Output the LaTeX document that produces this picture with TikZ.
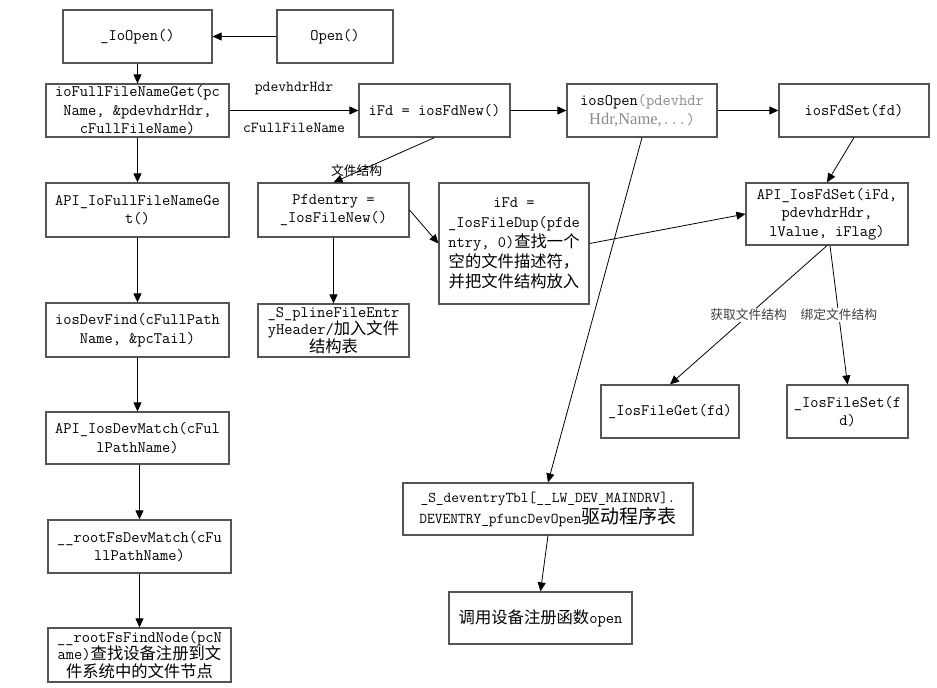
\documentclass[tikz,border=0pt]{standalone}
\usepackage{fontspec}
\setmainfont{Liberation Serif}
\newfontfamily\zhfont{Noto Sans CJK SC}[Scale=1.02]
\usetikzlibrary{arrows.meta}
\definecolor{boxline}{HTML}{555555}
\definecolor{fadetext}{HTML}{8A8A8A}
\definecolor{labeltext}{HTML}{404040}
\newcommand{\zh}[1]{{\zhfont #1}}
\tikzset{
    fnbox/.style={draw=boxline, line width=1.2pt, inner sep=0pt, align=center,
        font=\ttfamily\fontsize{16}{18.5}\selectfont},
    flow/.style={draw=black, line width=0.8pt, -{Triangle[length=9pt, width=8pt]}},
    monolabel/.style={font=\ttfamily\fontsize{15.2}{17}\selectfont, inner sep=0pt},
    zhlabel/.style={font=\fontsize{12.5}{14}\selectfont, inner sep=1pt}
}
\begin{document}
\begin{tikzpicture}[x=1pt, y=-1pt]
    \useasboundingbox (0,0) rectangle (937,688);
    \node[fnbox, minimum width=149, minimum height=53] (ioopen) at (137.5,36.5) {\_IoOpen()};
    \node[fnbox, minimum width=116, minimum height=53] (open) at (335,36.5) {Open()};
    \node[fnbox, minimum width=183, minimum height=53] (fullget) at (137.5,110.5)
        {ioFullFileNameGet(pc\\Name, \&pdevhdrHdr,\\cFullFileName)};
    \node[fnbox, minimum width=151, minimum height=53] (fdnew) at (434.5,110.5) {iFd = iosFdNew()};
    \node[fnbox, minimum width=150, minimum height=53] (iosopen) at (642,110.5)
        {iosOpen{\color{fadetext}(pdevhdr}\\{\color{fadetext}{\rmfamily\fontsize{16.5}{18.5}\selectfont Hdr,Name,}...)}};
    \node[fnbox, minimum width=150, minimum height=53] (fdset) at (854,110.5) {iosFdSet(fd)};
    \node[fnbox, minimum width=162, minimum height=62] (apifdset) at (827,214)
        {API\_IosFdSet(iFd,\\pdevhdrHdr,\\lValue, iFlag)};
    \node[fnbox, minimum width=183, minimum height=54] (apifull) at (137.5,210) {API\_IoFullFileNameGe\\t()};
    \node[fnbox, minimum width=183, minimum height=54] (devfind) at (137.5,330)
        {iosDevFind(cFullPath\\Name, \&pcTail)};
    \node[fnbox, minimum width=183, minimum height=52] (devmatch) at (137.5,438)
        {API\_IosDevMatch(cFul\\lPathName)};
    \node[fnbox, minimum width=183, minimum height=53] (rootmatch) at (139.5,546.5)
        {\_\_rootFsDevMatch(cFu\\llPathName)};
    \node[fnbox, minimum width=183, minimum height=54, font=\ttfamily\fontsize{16}{17.5}\selectfont] (findnode) at (139.5,655)
        {\_\_rootFsFindNode(pcN\\ame)\zh{查找设备注册到文}\\\zh{件系统中的文件节点}};
    \node[fnbox, minimum width=151, minimum height=54] (filenew) at (333.5,210) {Pfdentry =\\\_IosFileNew()};
    \node[fnbox, minimum width=151, minimum height=53, font=\ttfamily\fontsize{16}{17.5}\selectfont] (pline) at (333.5,330.5)
        {\_S\_plineFileEntr\\yHeader/\zh{加入文件}\\\zh{结构表}};
    \node[fnbox, minimum width=150, minimum height=121, font=\ttfamily\fontsize{16}{20}\selectfont] (filedup) at (514,243.5)
        {iFd =\\\_IosFileDup(pfde\\ntry, 0)\zh{查找一个}\\\zh{空的文件描述符，}\\\zh{并把文件结构放入}};
    \node[fnbox, minimum width=138, minimum height=53] (fileget) at (670,411.5) {\_IosFileGet(fd)};
    \node[fnbox, minimum width=121, minimum height=53] (fileset) at (847.5,411.5) {\_IosFileSet(f\\d)};
    \node[fnbox, minimum width=290, minimum height=52, font=\ttfamily\fontsize{15}{21}\selectfont] (devtbl) at (548,509)
        {\_S\_deventryTbl[\_\_LW\_DEV\_MAINDRV].\\DEVENTRY\_pfuncDevOpen{\fontsize{18.6}{21}\selectfont\zh{驱动程序表}}};
    \node[fnbox, minimum width=183, minimum height=52] (callopen) at (540.5,618) {\zh{调用设备注册函数}open};

    \draw[flow] (open) -- (ioopen);
    \foreach \a/\b in {ioopen/fullget, fullget/apifull, apifull/devfind, devfind/devmatch,
        devmatch/rootmatch, rootmatch/findnode, filenew/pline}
        \draw[flow] (\a.south -| \b) -- (\b.north);
    \draw[flow] (fullget) -- (fdnew)
        node[monolabel, midway, yshift=21.5pt] {pdevhdrHdr}
        node[monolabel, midway, yshift=-17.5pt] {cFullFileName};
    \draw[flow] (fdnew) -- (iosopen);
    \draw[flow] (iosopen) -- (fdset);
    \draw[flow] (fdnew.south) -- (filenew.north)
        node[zhlabel, pos=0.76, xshift=-1pt, yshift=1pt] {\zh{文件结构}};
    \draw[flow] (filenew.east) -- (filedup.west);
    \draw[flow] (filedup.east) -- (apifdset.west);
    \draw[flow] (fdset.south) -- (apifdset.north);
    \draw[flow] (iosopen.south) -- (devtbl.north);
    \draw[flow] (devtbl.south) -- (callopen.north);
    \draw[flow] (apifdset.south) -- (fileget.north)
        node[zhlabel, midway, fill=white, text=labeltext] {\zh{获取文件结构}};
    \draw[flow] ([xshift=3pt]apifdset.south) -- (fileset.north)
        node[zhlabel, midway, fill=white, text=labeltext] {\zh{绑定文件结构}};
\end{tikzpicture}
\end{document}
